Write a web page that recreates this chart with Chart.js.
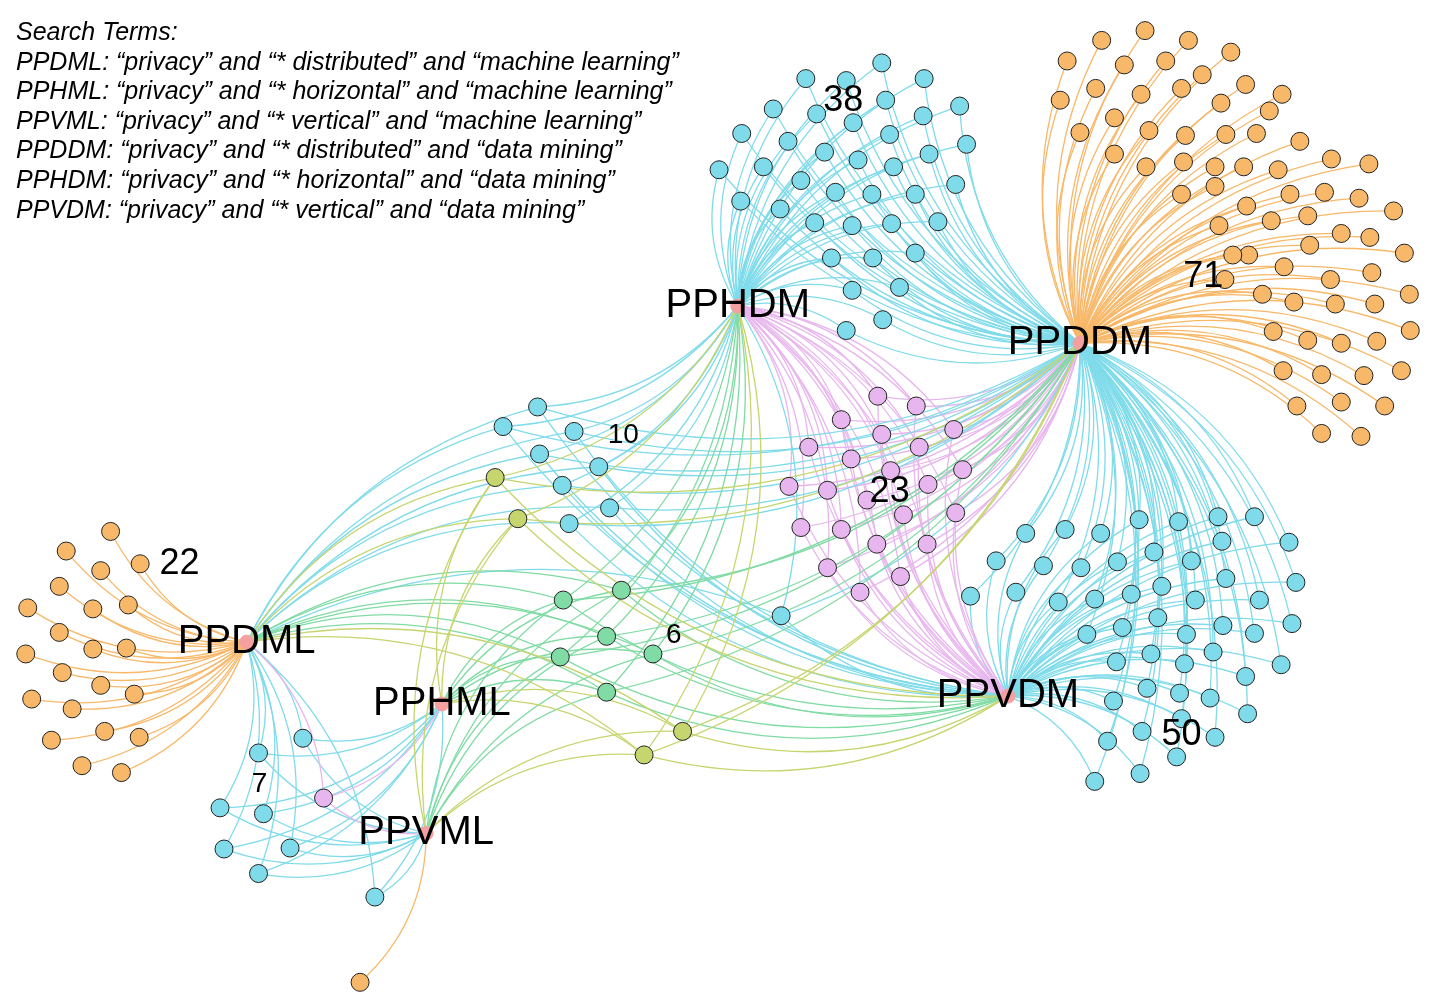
<!DOCTYPE html>
<html>
<head>
<meta charset="utf-8">
<script src="https://cdn.jsdelivr.net/npm/chart.js@4"></script>
<style>
  html, body { margin: 0; padding: 0; background: #fff; }
  #wrap { width: 1442px; height: 1008px; }
</style>
</head>
<body>
<div id="wrap"><canvas id="grafo"></canvas></div>
<script>
// hubs (search terms)
const hubNames = ["PPHDM", "PPDDM", "PPDML", "PPHML", "PPVML", "PPVDM"];
const hubPos = [[738, 302], [1085, 340], [240, 645], [438, 708], [422, 840], [1012, 700]];

const searchTerms = [
  "Search Terms:",
  "PPDML: \u201cprivacy\u201d and \u201c* distributed\u201d and \u201cmachine learning\u201d",
  "PPHML: \u201cprivacy\u201d and \u201c* horizontal\u201d and \u201cmachine learning\u201d",
  "PPVML: \u201cprivacy\u201d and \u201c* vertical\u201d and \u201cmachine learning\u201d",
  "PPDDM: \u201cprivacy\u201d and \u201c* distributed\u201d and \u201cdata mining\u201d",
  "PPHDM: \u201cprivacy\u201d and \u201c* horizontal\u201d and \u201cdata mining\u201d",
  "PPVDM: \u201cprivacy\u201d and \u201c* vertical\u201d and \u201cdata mining\u201d"
];

// paper nodes per group
const nodosHDM = [[807,70],[848,72],[884,54],[927,70],[774,101],[818,106],[855,115],[888,92],[926,108],[963,98],
  [742,126],[789,134],[826,145],[860,153],[892,127],[932,147],[970,137],[719,163],[764,160],[802,174],
  [837,186],[874,188],[896,160],[918,188],[959,178],[741,195],[781,203],[816,217],[854,220],[894,218],
  [941,216],[833,253],[875,253],[918,248],[854,286],[902,283],[848,327],[885,316]];
const nodosDDM = [[1107,31],[1151,21],[1195,31],[1238,43],[1072,52],[1130,56],[1172,52],[1209,66],[1253,76],[1290,86],
  [1065,92],[1101,80],[1147,86],[1188,80],[1228,95],[1277,103],[1085,125],[1120,110],[1155,123],[1192,128],
  [1233,127],[1264,126],[1308,134],[1120,147],[1152,160],[1190,155],[1222,160],[1251,160],[1286,163],[1340,152],
  [1378,157],[1188,188],[1222,180],[1254,200],[1298,188],[1333,186],[1368,192],[1403,205],[1226,220],[1279,215],
  [1316,210],[1350,228],[1379,232],[1414,248],[1256,250],[1292,262],[1318,240],[1339,275],[1381,268],[1419,290],
  [1232,275],[1270,290],[1302,298],[1344,300],[1384,300],[1420,327],[1281,328],[1316,337],[1350,340],[1386,338],
  [1291,368],[1330,372],[1373,373],[1411,368],[1305,404],[1350,400],[1394,404],[1330,432],[1370,435],[1240,250]];
const nodosVDM = [[1030,534],[1070,530],[1106,534],[1145,520],[1185,522],[1225,517],[1262,517],[1297,543],[1000,562],[1048,567],
  [1086,569],[1123,563],[1160,553],[1198,562],[1229,542],[1304,584],[974,598],[1020,594],[1063,604],[1100,601],
  [1137,596],[1168,588],[1202,602],[1233,580],[1267,602],[1300,626],[1092,637],[1128,630],[1164,620],[1193,637],
  [1230,628],[1262,636],[1122,665],[1157,657],[1191,667],[1220,655],[1253,680],[1289,668],[1119,705],[1153,692],
  [1186,697],[1217,702],[1148,736],[1113,746],[1188,723],[1222,742],[1255,718],[1183,762],[1146,779],[1100,787]];
const nodosRosa = [[880,394],[919,404],[843,418],[884,433],[957,428],[810,446],[853,458],[922,446],[790,486],[829,490],
  [893,470],[931,484],[966,469],[869,500],[906,515],[959,513],[802,528],[843,530],[879,545],[930,545],
  [829,569],[903,578],[862,594]];
const nodosDML = [[102,532],[57,552],[132,565],[92,572],[50,588],[18,610],[84,611],[120,607],[50,635],[84,652],
  [118,651],[16,657],[53,676],[92,689],[22,703],[126,698],[63,713],[96,736],[42,745],[131,742],[73,771],[113,778]];
const nodosCian10 = [[500,425],[535,405],[572,430],[537,453],[597,466],[560,485],[608,508],[567,524],[782,618]];
const nodosVerde = [[561,602],[620,592],[605,639],[558,660],[652,657],[605,696]];
const nodosCian7 = [[252,758],[297,743],[213,814],[257,820],[217,856],[284,855],[252,881],[370,905]];
const nodosAmarillo = [[492,477],[515,519],[643,760],[682,736]];
const nodosRosa1 = [[318,804]];
const nodosNaranja1 = [[355,992]];

const counts = [["38", 845, 93, 36], ["71", 1210, 272, 36], ["23", 892, 492, 36], ["50", 1188, 740, 36],
  ["22", 172, 565, 36], ["10", 622, 434, 28], ["6", 673, 638, 28], ["7", 253, 790, 28]];

const CIAN = "#7fdbea", NARANJA = "#f8b869", ROSA = "#e8b6ee", VERDE = "#80dba4", AMARILLO = "#c6d56e";

// grupo: nodos, color, hubs a los que se conecta
const grupos = [
  { nodos: nodosDDM, color: NARANJA, hubs: [1] },
  { nodos: nodosHDM, color: CIAN, hubs: [0, 1] },
  { nodos: nodosVDM, color: CIAN, hubs: [5, 1] },
  { nodos: nodosRosa, color: ROSA, hubs: [0, 1, 5] },
  { nodos: nodosDML, color: NARANJA, hubs: [2] },
  { nodos: nodosCian10, color: CIAN, hubs: [2, 0, 1, 5] },
  { nodos: nodosCian7, color: CIAN, hubs: [2, 4, 3] },
  { nodos: nodosRosa1, color: ROSA, hubs: [2, 3, 4] },
  { nodos: nodosNaranja1, color: NARANJA, hubs: [4] },
  { nodos: nodosVerde, color: VERDE, hubs: [3, 4, 0, 1, 5, 2] },
  { nodos: nodosAmarillo, color: AMARILLO, hubs: [2, 3, 4, 0, 1, 5] }
];

const datasets = grupos.map(g => ({
  data: g.nodos.map(p => ({ x: p[0], y: p[1] })),
  backgroundColor: g.color,
  borderColor: "#222",
  borderWidth: 1,
  pointRadius: 9,
  pointHoverRadius: 9
}));
datasets.push({
  data: hubPos.map(p => ({ x: p[0], y: p[1] })),
  backgroundColor: "#f4a0a0",
  borderColor: "#f4a0a0",
  pointRadius: 7
});

// dibuja aristas curvas y textos
const aristas = {
  id: "aristas",
  beforeDatasetsDraw(chart) {
    const { ctx, scales: { x, y } } = chart;
    ctx.save();
    ctx.lineWidth = 1.3;
    grupos.forEach(g => {
      ctx.strokeStyle = g.color;
      g.nodos.forEach(n => {
        g.hubs.forEach(h => {
          const x1 = x.getPixelForValue(n[0]), y1 = y.getPixelForValue(n[1]);
          const x2 = x.getPixelForValue(hubPos[h][0]), y2 = y.getPixelForValue(hubPos[h][1]);
          const mx = (x1 + x2) / 2, my = (y1 + y2) / 2;
          const dx = x2 - x1, dy = y2 - y1;
          const cx = mx - dy * 0.22, cy = my + dx * 0.22;
          ctx.beginPath();
          ctx.moveTo(x1, y1);
          ctx.quadraticCurveTo(cx, cy, x2, y2);
          ctx.stroke();
        });
      });
    });
    ctx.restore();
  },
  afterDatasetsDraw(chart) {
    const { ctx, scales: { x, y } } = chart;
    ctx.save();
    ctx.fillStyle = "#000";
    ctx.textAlign = "center";
    ctx.textBaseline = "middle";
    ctx.font = "40px 'Liberation Sans', Arial, sans-serif";
    hubNames.forEach((n, i) => {
      ctx.fillText(n, x.getPixelForValue(hubPos[i][0]), y.getPixelForValue(hubPos[i][1]));
    });
    counts.forEach(c => {
      ctx.font = c[3] + "px 'Liberation Sans', Arial, sans-serif";
      ctx.fillText(c[0], x.getPixelForValue(c[1]), y.getPixelForValue(c[2]));
    });
    ctx.textAlign = "left";
    ctx.font = "italic 25px 'Liberation Sans', Arial, sans-serif";
    searchTerms.forEach((t, i) => ctx.fillText(t, 16, 33 + i * 29.6));
    ctx.restore();
  }
};

new Chart(document.getElementById("grafo"), {
  type: "scatter",
  data: { datasets },
  options: {
    responsive: true,
    maintainAspectRatio: false,
    animation: false,
    layout: { padding: 0 },
    scales: {
      x: { display: false, min: 0, max: 1442 },
      y: { display: false, min: 0, max: 1008, reverse: true }
    },
    plugins: { legend: { display: false }, tooltip: { enabled: false } }
  },
  plugins: [aristas]
});
</script>
</body>
</html>
